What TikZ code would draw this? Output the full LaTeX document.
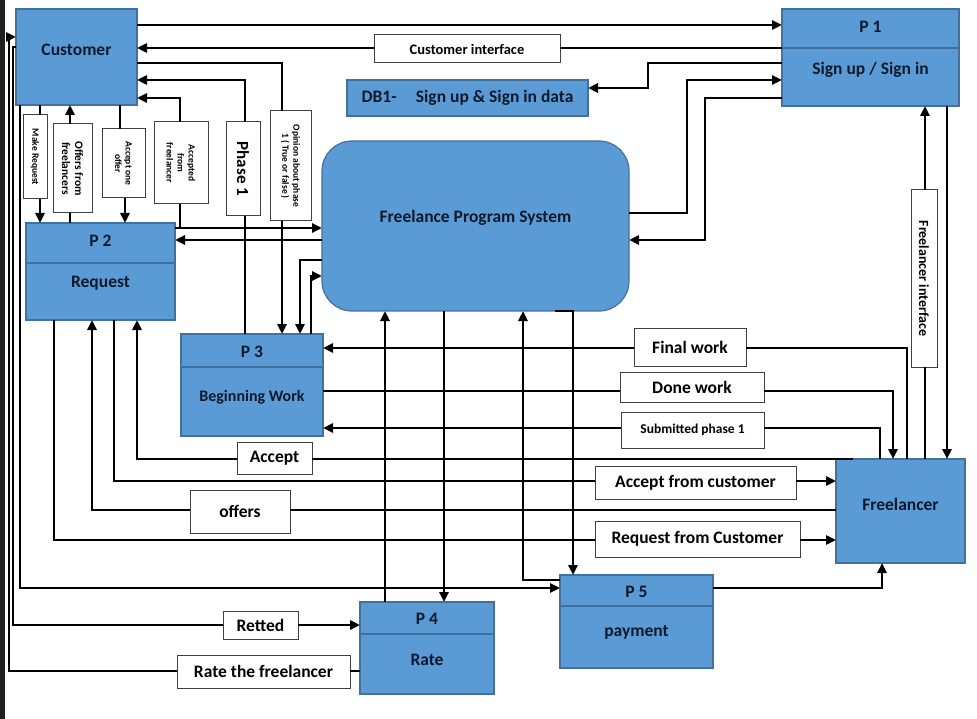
\documentclass[tikz,border=0pt]{standalone}
\usepackage{fontspec}
\setmainfont{Carlito}
\usetikzlibrary{arrows.meta}
\definecolor{procblue}{HTML}{5B9BD5}
\definecolor{procedge}{HTML}{41719C}
\definecolor{navytext}{HTML}{0E1A2C}

\begin{document}
\begin{tikzpicture}[x=1pt, y=-1pt]
  \tikzstyle{proc} = [rectangle, draw=procedge, fill=procblue, line width=1.2pt, outer sep=0pt, inner sep=0pt]
  \tikzstyle{system} = [proc, rounded corners=30pt]
  \tikzstyle{ptitle} = [text=navytext, font=\bfseries\fontsize{17.5}{20}\selectfont]
  \tikzstyle{lbl} = [rectangle, draw=black!75, fill=white, line width=1pt, outer sep=0pt, inner sep=1pt, align=center, font=\bfseries\fontsize{17.5}{20}\selectfont]
  \tikzstyle{vlbl} = [lbl, rotate=-90]
  \tikzstyle{divider} = [draw=procedge, line width=1.2pt]

  \tikzstyle{arrow} = [line width=2.6pt, -{Triangle[length=10pt,width=9pt]}]
  \tikzstyle{wire} = [line width=2.6pt]

  \useasboundingbox (0,0) rectangle (977,719);
  \fill[black!88] (0,0) rectangle (5,719);

  % processes
  \node[proc, minimum width=121pt, minimum height=96pt] (cust) at (76.5,57) {};
  \node[ptitle] (custname) at (76.5,50) {Customer};

  \node[proc, minimum width=177pt, minimum height=97pt] (p1) at (870.5,57.5) {};
  \draw[divider] (p1.west |- 0,48) -- (p1.east |- 0,48);
  \node[ptitle] (p1id) at (870.5,27) {P 1};
  \node[ptitle] (p1name) at (870.5,70) {Sign up / Sign in};

  \node[proc, ptitle, minimum width=241pt, minimum height=36pt] (db) at (467.5,98) {DB1-\hspace{1.1em}Sign up \& Sign in data};

  \node[system, minimum width=307pt, minimum height=170pt] (fps) at (475.5,226) {};
  \node[ptitle] (fpsname) at (475.5,218) {Freelance Program System};

  \node[proc, minimum width=149pt, minimum height=97pt] (p2) at (100.5,271.5) {};
  \draw[divider] (p2.west |- 0,263) -- (p2.east |- 0,263);
  \node[ptitle] (p2id) at (100.5,241) {P 2};
  \node[ptitle] (p2name) at (100.5,283) {Request};

  \node[proc, minimum width=142pt, minimum height=102pt] (p3) at (252,385) {};
  \draw[divider] (p3.west |- 0,367) -- (p3.east |- 0,367);
  \node[ptitle] (p3id) at (252,352) {P 3};
  \node[ptitle, font=\bfseries\fontsize{16}{18}\selectfont] (p3name) at (252,397) {Beginning Work};

  \node[proc, minimum width=134pt, minimum height=92pt] (p4) at (427,648) {};
  \draw[divider] (p4.west |- 0,634) -- (p4.east |- 0,634);
  \node[ptitle] (p4id) at (427,619) {P 4};
  \node[ptitle] (p4name) at (427,660) {Rate};

  \node[proc, minimum width=153pt, minimum height=93pt] (p5) at (636.5,621.5) {};
  \draw[divider] (p5.west |- 0,606) -- (p5.east |- 0,606);
  \node[ptitle] (p5id) at (636.5,592) {P 5};
  \node[ptitle] (p5name) at (636.5,632) {payment};

  \node[proc, minimum width=129pt, minimum height=104pt] (fl) at (900.5,511) {};
  \node[ptitle] (flname) at (900.5,504) {Freelancer};

  % flow labels
  \node[lbl, minimum width=186pt, minimum height=28pt, font=\bfseries\fontsize{14.5}{16}\selectfont] (ci) at (467,49) {Customer interface};
  % rotated labels: west = top, east = bottom
  \node[vlbl, minimum width=84pt, minimum height=24pt, font=\bfseries\fontsize{9.5}{10.5}\selectfont] (mk) at (35,157) {Make Request};
  \node[vlbl, minimum width=89pt, minimum height=39pt, font=\bfseries\fontsize{11.5}{13}\selectfont] (ofr) at (72.5,168.5) {Offers from\\freelancers};
  \node[vlbl, minimum width=69pt, minimum height=43pt, font=\bfseries\fontsize{9.5}{10.5}\selectfont] (acc1) at (123.5,163.5) {Accept one\\offer};
  \node[vlbl, minimum width=82pt, minimum height=54pt, font=\bfseries\fontsize{9.5}{11}\selectfont] (accd) at (181,163) {Accepted\\from\\freelancer};
  \node[vlbl, minimum width=94pt, minimum height=34pt, font=\bfseries\fontsize{17}{19}\selectfont] (ph) at (243,169) {Phase 1};
  \node[vlbl, minimum width=110pt, minimum height=41pt, font=\bfseries\fontsize{9.5}{11}\selectfont] (opn) at (290.5,166) {Opinion about phase\\1 ( True or false )};
  \node[vlbl, minimum width=177pt, minimum height=26pt, font=\bfseries\fontsize{14}{16}\selectfont] (fi) at (924,278.5) {Freelancer interface};

  \node[lbl, minimum width=112pt, minimum height=38pt] (fw) at (690,347) {Final work};
  \node[lbl, minimum width=144pt, minimum height=30pt] (dw) at (692,387) {Done work};
  \node[lbl, minimum width=143pt, minimum height=36pt, font=\bfseries\fontsize{13.5}{15}\selectfont] (sp) at (692.5,430) {Submitted phase 1};
  \node[lbl, minimum width=75pt, minimum height=32pt] (acpt) at (274.5,458) {Accept};
  \node[lbl, minimum width=201pt, minimum height=33pt] (afc) at (695.5,482.5) {Accept from customer};
  \node[lbl, minimum width=100pt, minimum height=43pt] (ofs) at (240,511.5) {offers};
  \node[lbl, minimum width=205pt, minimum height=36pt] (rfc) at (697.5,539) {Request from Customer};
  \node[lbl, minimum width=75pt, minimum height=28pt] (ret) at (260.5,625) {Retted};
  \node[lbl, minimum width=173pt, minimum height=33pt] (rtf) at (263.5,671.5) {Rate the freelancer};

  % customer and P1
  \draw [arrow] (cust.east |- 0,25) -- (p1.west |- 0,25);
  \draw [wire] (p1.west |- 0,48) -- (ci.east |- 0,48);
  \draw [arrow] (ci.west |- 0,48) -- (cust.east |- 0,48);
  \draw [arrow] (p1.west |- 0,63) -- ++(-134,0) |- (db.east |- 0,88);
  \draw [arrow] (fps.east |- 0,213) -- ++(58,0) |- (p1.west |- 0,80);
  \draw [arrow] (p1.west |- 0,98) -- ++(-77,0) |- (fps.east |- 0,240);

  % customer and P2
  \draw [wire] (cust.south -| 40,0) -- (mk.west -| 40,0);
  \draw [arrow] (mk.east -| 40,0) -- (p2.north -| 40,0);
  \draw [wire] (p2.north -| 70,0) -- (ofr.east -| 70,0);
  \draw [arrow] (ofr.west -| 70,0) -- (cust.south -| 70,0);
  \draw [wire] (cust.south -| 120,0) -- (acc1.west -| 120,0);
  \draw [arrow] (acc1.east -| 125,0) -- (p2.north -| 125,0);
  \draw [wire] (p2.east |- 0,228) -| (accd.east -| 180,0);
  \draw [arrow] (accd.west -| 180,0) |- (cust.east |- 0,98);

  % customer and P3
  \draw [wire] (p3.north -| 245,0) -- (ph.east -| 245,0);
  \draw [arrow] (ph.west -| 245,0) |- (cust.east |- 0,80);
  \draw [wire] (cust.east |- 0,63) -| (opn.west -| 282,0);
  \draw [arrow] (opn.east -| 282,0) -- (p3.north -| 282,0);

  % system and P2, P3
  \draw [arrow] (p2.east |- 0,228) -- (fps.west |- 0,228);
  \draw [arrow] (fps.west |- 0,240) -- (p2.east |- 0,240);
  \draw [arrow] (fps.west |- 0,260) -| (p3.north -| 300,0);
  \draw [arrow] (p3.north -| 311,0) |- (fps.west |- 0,276);

  % freelancer and P3
  \draw [wire] (fl.north -| 907,0) |- (fw.east |- 0,348);
  \draw [arrow] (fw.west |- 0,348) -- (p3.east |- 0,348);
  \draw [wire] (p3.east |- 0,391) -- (dw.west |- 0,391);
  \draw [arrow] (dw.east |- 0,391) -| (fl.north -| 893,0);
  \draw [wire] (fl.north -| 880,0) |- (sp.east |- 0,428);
  \draw [arrow] (sp.west |- 0,428) -- (p3.east |- 0,428);

  % freelancer and P2
  \draw [wire] (fl.north -| 853,0) -- (acpt.east |- 0,459);
  \draw [arrow] (acpt.west |- 0,459) -| (p2.south -| 137,0);
  \draw [wire] (p2.south -| 114,0) |- (afc.west |- 0,481);
  \draw [arrow] (afc.east |- 0,481) -- (fl.west |- 0,481);
  \draw [wire] (fl.west |- 0,510) -- (ofs.east |- 0,510);
  \draw [arrow] (ofs.west |- 0,510) -| (p2.south -| 92,0);
  \draw [wire] (p2.south -| 54,0) |- (rfc.west |- 0,540);
  \draw [arrow] (rfc.east |- 0,540) -- (fl.west |- 0,540);

  % freelancer and P1
  \draw [wire] (fl.north -| 925,0) -- (fi.east -| 925,0);
  \draw [arrow] (fi.west -| 925,0) -- (p1.south -| 925,0);
  \draw [arrow] (p1.south -| 947,0) -- (fl.north -| 947,0);

  % P4 and P5
  \draw [arrow] (p4.north -| 385,0) -- (fps.south -| 385,0);
  \draw [arrow] (fps.south -| 444,0) -- (p4.north -| 444,0);
  \draw [arrow] (p5.west |- 0,580) -| (fps.south -| 523,0);
  \draw [arrow] (fps.south -| 555,0) -| (p5.north -| 573,0);
  \draw [arrow] (p5.east |- 0,588) -| (fl.south -| 882,0);
  \draw [arrow] (cust.south -| 20,0) |- (p5.west |- 0,588);
  \draw [wire] (cust.west |- 0,47) -- ++(-3,0) |- (ret.west |- 0,625);
  \draw [arrow] (ret.east |- 0,625) -- (p4.west |- 0,625);
  \draw [wire] (p4.west |- 0,671) -- (rtf.east |- 0,671);
  \draw [arrow] (rtf.west |- 0,671) -- ++(-168,0) |- (cust.west |- 0,37);
\end{tikzpicture}
\end{document}
